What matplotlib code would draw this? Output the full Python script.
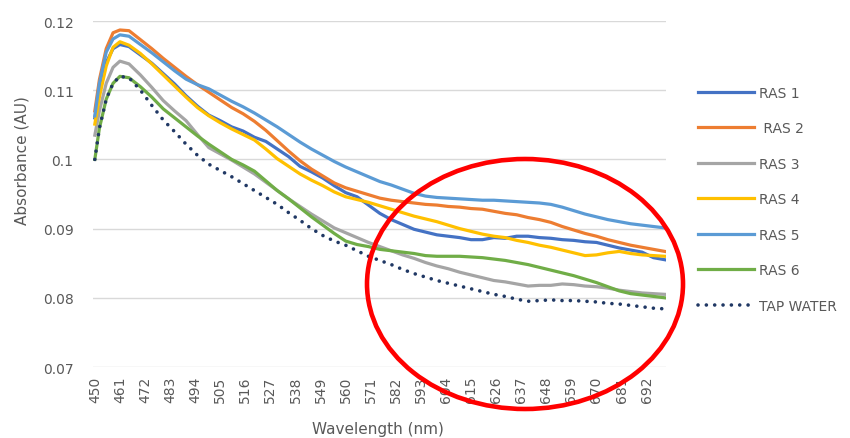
import matplotlib.pyplot as plt
import matplotlib as mpl
from matplotlib.patches import Ellipse

mpl.rcParams['font.family'] = 'DejaVu Sans'
mpl.rcParams['font.size'] = 10

# wavelength (nm)
wl = [450, 452, 455, 458, 461, 465, 470, 475, 480, 485, 490, 495, 500, 505,
      510, 515, 520, 525, 530, 535, 540, 545, 550, 555, 560, 565, 570, 575,
      580, 585, 590, 595, 600, 605, 610, 615, 620, 625, 630, 635, 640, 645,
      650, 655, 660, 665, 670, 675, 680, 685, 690, 695, 700]

ras1 = [.1060, .1100, .1140, .1160, .1166, .1163, .1151, .1139, .1124, .1109,
        .1092, .1077, .1064, .1056, .1047, .1041, .1032, .1026, .1015, .1004,
        .0990, .0982, .0973, .0962, .0952, .0946, .0934, .0922, .0913, .0906,
        .0899, .0895, .0891, .0889, .0887, .0884, .0884, .0887, .0886, .0889,
        .0889, .0887, .0886, .0884, .0883, .0881, .0880, .0876, .0872, .0869,
        .0866, .0858, .0855]
ras2 = [.1070, .1115, .1160, .1183, .1187, .1186, .1173, .1160, .1146, .1133,
        .1120, .1108, .1097, .1086, .1075, .1066, .1055, .1042, .1027, .1012,
        .0998, .0986, .0976, .0966, .0959, .0954, .0949, .0944, .0941, .0939,
        .0937, .0935, .0934, .0932, .0931, .0929, .0928, .0925, .0922, .0920,
        .0916, .0913, .0909, .0903, .0898, .0893, .0889, .0884, .0880, .0876,
        .0873, .0870, .0867]
ras3 = [.1035, .1070, .1110, .1133, .1142, .1138, .1122, .1104, .1085, .1070,
        .1056, .1036, .1017, .1008, .0999, .0989, .0979, .0967, .0955, .0943,
        .0932, .0921, .0911, .0901, .0894, .0887, .0880, .0874, .0868, .0862,
        .0857, .0851, .0846, .0842, .0837, .0833, .0829, .0825, .0823, .0820,
        .0817, .0818, .0818, .0820, .0819, .0817, .0816, .0814, .0811, .0809,
        .0807, .0806, .0805]
ras4 = [.1051, .1090, .1135, .1162, .1170, .1165, .1153, .1138, .1122, .1106,
        .1090, .1075, .1063, .1053, .1044, .1036, .1028, .1015, .1001, .0990,
        .0979, .0970, .0962, .0953, .0946, .0942, .0938, .0933, .0928, .0923,
        .0918, .0914, .0910, .0905, .0900, .0896, .0892, .0889, .0887, .0883,
        .0880, .0876, .0873, .0869, .0865, .0861, .0862, .0865, .0867, .0864,
        .0862, .0861, .0860]
ras5 = [.1063, .1110, .1155, .1174, .1180, .1178, .1166, .1154, .1141, .1128,
        .1116, .1108, .1102, .1093, .1084, .1076, .1067, .1057, .1047, .1036,
        .1025, .1015, .1006, .0997, .0989, .0982, .0975, .0968, .0963, .0957,
        .0951, .0947, .0945, .0944, .0943, .0942, .0941, .0941, .0940, .0939,
        .0938, .0937, .0935, .0931, .0926, .0921, .0917, .0913, .0910, .0907,
        .0905, .0903, .0901]
ras6 = [.1000, .1045, .1087, .1110, .1120, .1118, .1105, .1090, .1073, .1060,
        .1047, .1034, .1022, .1011, .1000, .0992, .0983, .0969, .0955, .0943,
        .0930, .0917, .0905, .0893, .0882, .0877, .0874, .0870, .0868, .0866,
        .0864, .0861, .0860, .0860, .0860, .0859, .0858, .0856, .0854, .0851,
        .0848, .0844, .0840, .0836, .0832, .0827, .0822, .0816, .0810, .0806,
        .0804, .0802, .0800]
tap = [.1000, .1045, .1087, .1110, .1120, .1118, .1100, .1078, .1057, .1040,
       .1022, .1006, .0993, .0984, .0975, .0965, .0955, .0945, .0935, .0923,
       .0912, .0900, .0890, .0882, .0876, .0868, .0860, .0854, .0848, .0841,
       .0835, .0830, .0825, .0821, .0817, .0813, .0809, .0805, .0802, .0798,
       .0795, .0796, .0797, .0796, .0796, .0795, .0794, .0792, .0791, .0789,
       .0787, .0785, .0784]

labels = ["RAS 1", " RAS 2", "RAS 3", "RAS 4", "RAS 5", "RAS 6", "TAP WATER"]
colors = ["#4472C4", "#ED7D31", "#A5A5A5", "#FFC000", "#5B9BD5", "#70AD47", "#203864"]
xticks = list(range(450, 700, 11))
yticks = [0.07, 0.08, 0.09, 0.1, 0.11, 0.12]
ytick_labels = ["0.07", "0.08", "0.09", "0.1", "0.11", "0.12"]

W, H = 850, 439
fig = plt.figure(figsize=(8.5, 4.39), dpi=100)
ax = fig.add_axes([93 / W, 1 - 368 / H, (666 - 93) / W, (368 - 22) / H])

series = [ras1, ras2, ras3, ras4, ras5, ras6]
for s, lab, c in zip(series, labels, colors):
    ax.plot(wl, s, color=c, lw=2.3, label=lab, solid_joinstyle='round')
ax.plot(wl, tap, color=colors[6], lw=2.6, linestyle=(0, (0.01, 2.3)),
        dash_capstyle='round', label=labels[6])

ax.set_xlim(449.2, 700.5)
ax.set_ylim(0.07, 0.12)
ax.set_xticks(xticks)
ax.set_xticklabels([str(t) for t in xticks], rotation=90)
ax.set_yticks(yticks)
ax.set_yticklabels(ytick_labels)
ax.tick_params(length=0, colors='#595959', labelsize=10)
ax.tick_params(axis='x', pad=6)
ax.tick_params(axis='y', pad=14)
ax.grid(axis='y', color='#D9D9D9', lw=1)
ax.set_axisbelow(True)
for sp in ax.spines.values():
    sp.set_visible(False)

fig.text(22 / W, 1 - 161 / H, "Absorbance (AU)", rotation=90, ha='center',
         va='center', color='#595959', fontsize=11)
fig.text(378 / W, 1 - 430 / H, "Wavelength (nm)", ha='center', va='center',
         color='#595959', fontsize=11)

leg = fig.legend(loc='upper left', bbox_to_anchor=(685 / W, 1 - 74 / H),
                 frameon=False, handlelength=4.1, handletextpad=0.3,
                 labelspacing=1.55, fontsize=10)
for t in leg.get_texts():
    t.set_color('#595959')

fig.add_artist(Ellipse((525 / W, 1 - 285 / H), 316 / W, 250 / H,
                       transform=fig.transFigure, fill=False, ec='#FF0000',
                       lw=3.3))

fig.savefig("out.png", dpi=100)
